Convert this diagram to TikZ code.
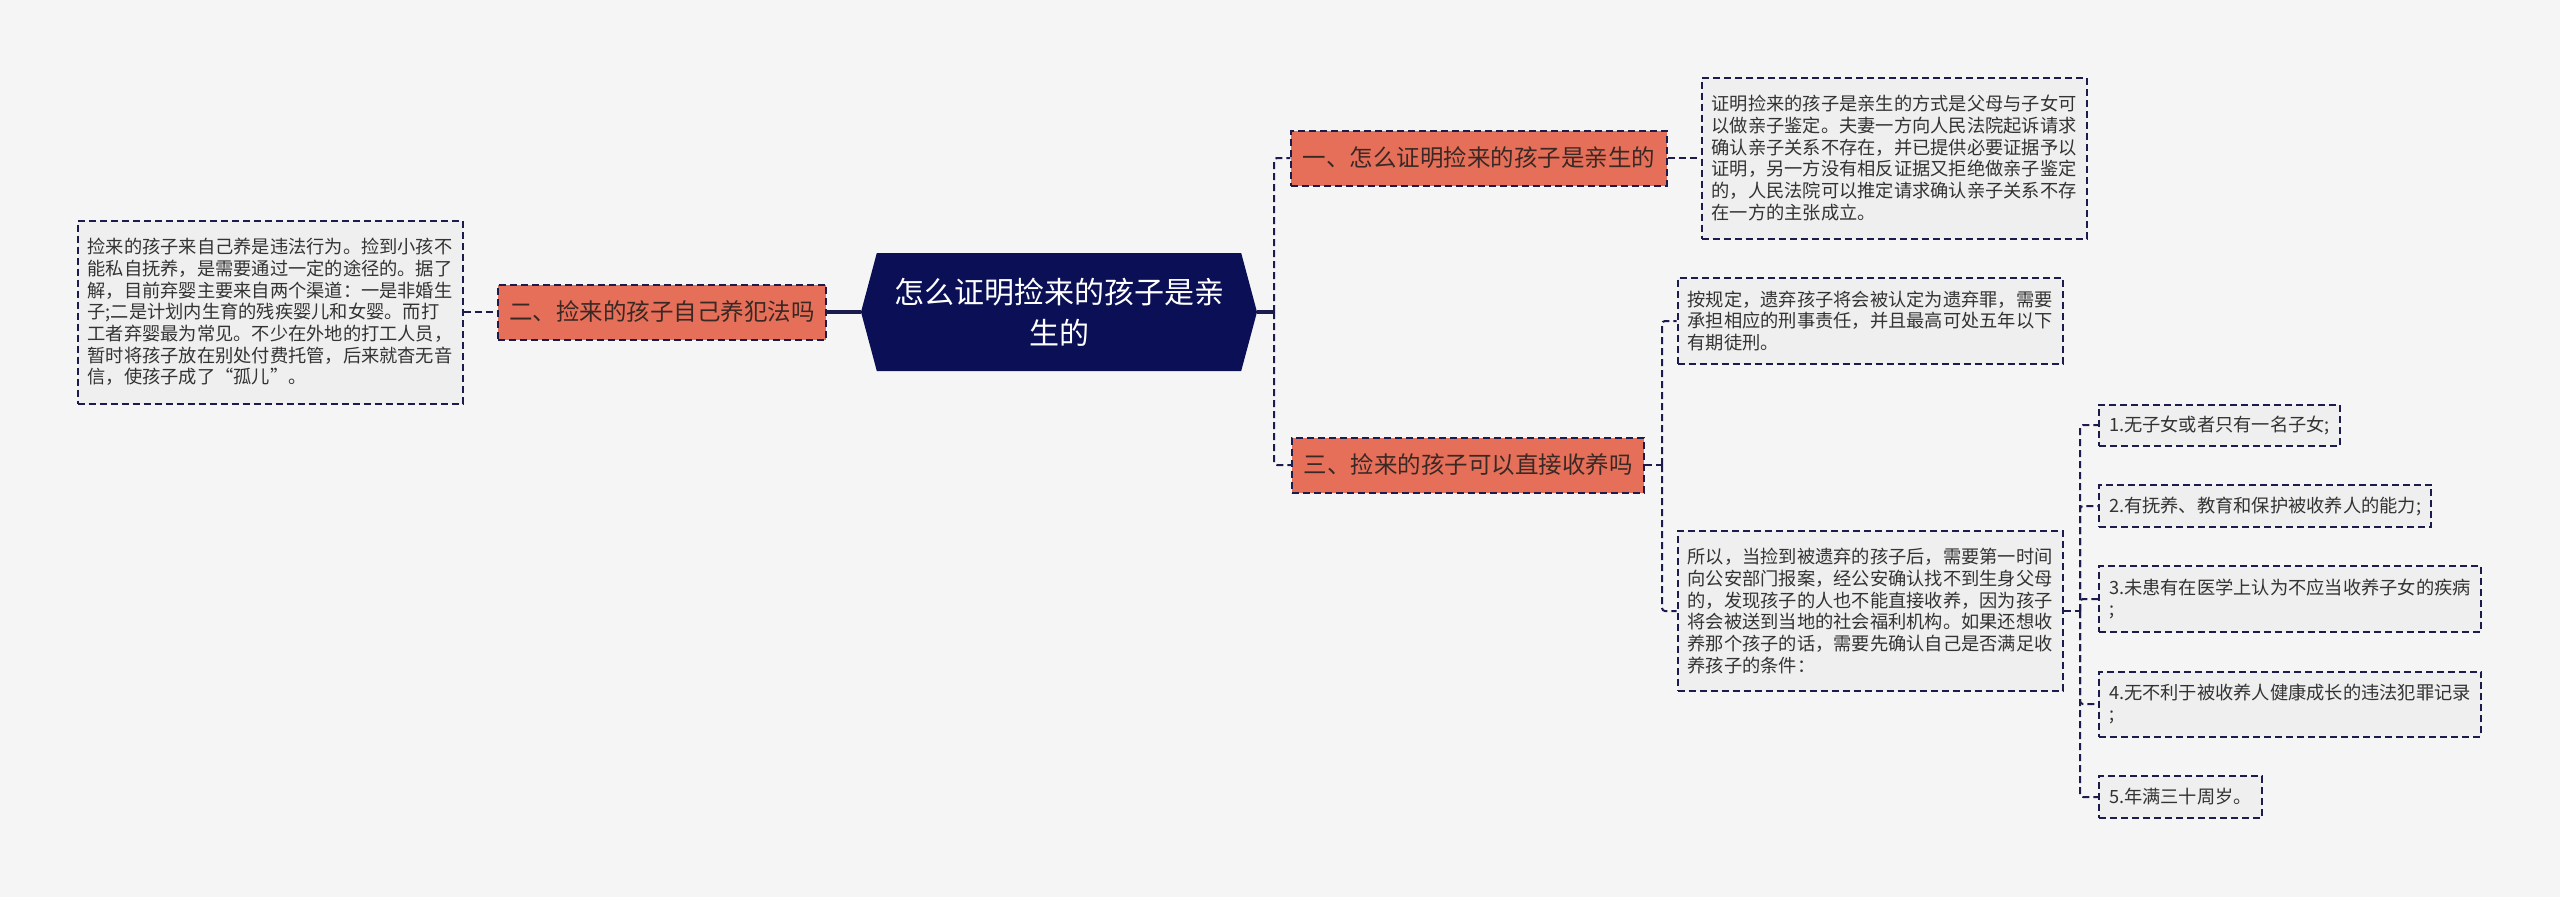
\documentclass[tikz,border=0pt]{standalone}
\usepackage{fontspec}
\newfontfamily\cjk{Noto Sans CJK SC}
\usetikzlibrary{shapes.symbols}

\definecolor{pagebg}{HTML}{F5F5F5}
\definecolor{hubnavy}{HTML}{0B1056}
\definecolor{linknavy}{HTML}{1C1C4C}
\definecolor{topicred}{HTML}{E66F59}
\definecolor{topictext}{HTML}{3A2824}
\definecolor{notegray}{HTML}{EFEFEF}
\definecolor{notetext}{HTML}{333333}

\tikzset{
  hub/.style={shape=signal, signal to=west and east, signal pointer angle=150,
    fill=hubnavy, text=white, align=center, inner sep=0pt,
    font=\cjk\fontsize{30}{41}\selectfont,
    minimum width=396pt, minimum height=118pt},
  topic/.style={draw=linknavy, line width=2pt, dash pattern=on 7pt off 4pt,
    fill=topicred, text=topictext, inner xsep=11.5pt, minimum height=55pt,
    font=\cjk\fontsize{23.5}{28}\selectfont},
  note/.style={draw=linknavy, line width=2pt, dash pattern=on 7pt off 4pt,
    fill=notegray, text=notetext, align=left, inner xsep=10pt,
    font=\cjk\fontsize{18.25}{21.7}\selectfont},
  link/.style={draw=linknavy, line width=2pt, dash pattern=on 7pt off 4pt,
    rounded corners=3pt},
  stub/.style={draw=linknavy, line width=3.5pt},
}

\begin{document}
\begin{tikzpicture}[x=1pt, y=-1pt]
  \fill[pagebg] (0,0) rectangle (2560,897);
  \useasboundingbox (0,0) rectangle (2560,897);

  % centre
  \node[hub] (root) at (1059,312) {怎么证明捡来的孩子是亲\\生的};

  % left branch
  \node[topic] (sec2) at (662,312) {二、捡来的孩子自己养犯法吗};
  \node[note, minimum height=183pt] (note2) at (270,312)
    {捡来的孩子来自己养是违法行为。捡到小孩不\\
     能私自抚养，是需要通过一定的途径的。据了\\
     解，目前弃婴主要来自两个渠道：一是非婚生\\
     子;二是计划内生育的残疾婴儿和女婴。而打\\
     工者弃婴最为常见。不少在外地的打工人员，\\
     暂时将孩子放在别处付费托管，后来就杳无音\\
     信，使孩子成了“孤儿”。};

  % right branches
  \node[topic] (sec1) at (1479,158) {一、怎么证明捡来的孩子是亲生的};
  \node[note, minimum height=161pt] (note1) at (1894,158)
    {证明捡来的孩子是亲生的方式是父母与子女可\\
     以做亲子鉴定。夫妻一方向人民法院起诉请求\\
     确认亲子关系不存在，并已提供必要证据予以\\
     证明，另一方没有相反证据又拒绝做亲子鉴定\\
     的，人民法院可以推定请求确认亲子关系不存\\
     在一方的主张成立。};

  \node[topic] (sec3) at (1468,465) {三、捡来的孩子可以直接收养吗};
  \node[note, minimum height=86pt] (note3a) at (1870,321)
    {按规定，遗弃孩子将会被认定为遗弃罪，需要\\
     承担相应的刑事责任，并且最高可处五年以下\\
     有期徒刑。};
  \node[note, minimum height=160pt] (note3b) at (1870,611)
    {所以，当捡到被遗弃的孩子后，需要第一时间\\
     向公安部门报案，经公安确认找不到生身父母\\
     的，发现孩子的人也不能直接收养，因为孩子\\
     将会被送到当地的社会福利机构。如果还想收\\
     养那个孩子的话，需要先确认自己是否满足收\\
     养孩子的条件：};

  % conditions
  \node[note, anchor=west, minimum height=41pt] (item1) at (2098,425) {1.无子女或者只有一名子女;};
  \node[note, anchor=west, minimum height=42pt] (item2) at (2098,506) {2.有抚养、教育和保护被收养人的能力;};
  \node[note, anchor=west, minimum height=66pt] (item3) at (2098,599) {3.未患有在医学上认为不应当收养子女的疾病\\;};
  \node[note, anchor=west, minimum height=65pt] (item4) at (2098,704) {4.无不利于被收养人健康成长的违法犯罪记录\\;};
  \node[note, anchor=west, minimum height=42pt] (item5) at (2098,797) {5.年满三十周岁。};

  \coordinate (rs) at (1274,312);
  \coordinate (s3) at (1662,465);
  \coordinate (s3b) at (2080,611);

  \draw[stub] (sec2.east) -- (root.west);
  \draw[link] (note2.east) -- (sec2.west);
  \draw[stub] (root.east) -- (rs);
  \draw[link] (rs) |- (sec1.west);
  \draw[link] (rs) |- (sec3.west);
  \draw[link] (sec1.east) -- (note1.west);
  \draw[link] (sec3.east) -- (s3);
  \draw[link] (s3) |- (note3a.west);
  \draw[link] (s3) |- (note3b.west);
  \draw[link] (note3b.east) -- (s3b);
  \foreach \i in {1,...,5}
    \draw[link] (s3b) |- (item\i.west);
\end{tikzpicture}
\end{document}
